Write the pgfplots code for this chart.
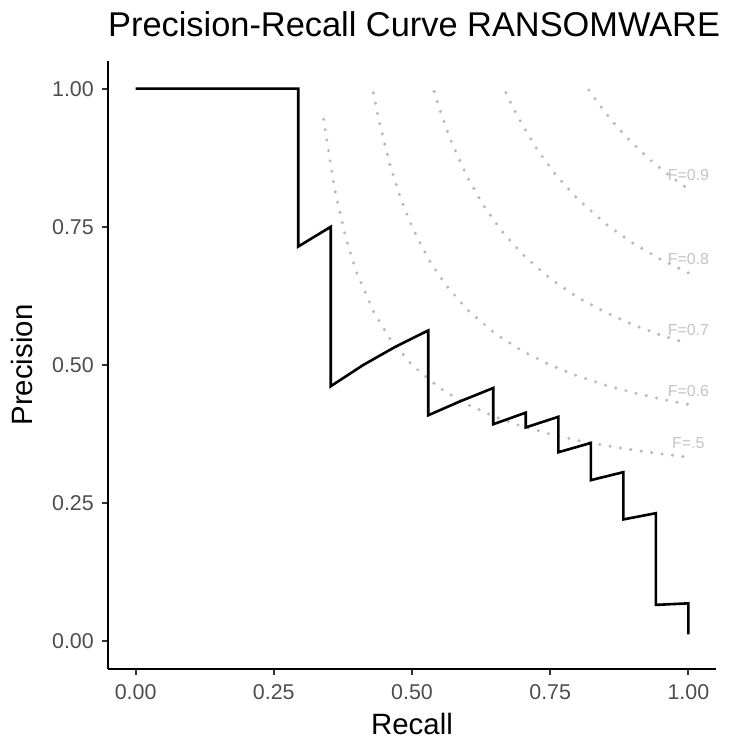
\documentclass[border=0pt]{standalone}
\usepackage{pgfplots}
\pgfplotsset{compat=1.18}
\usepackage{pgfplotstable}
\usepackage{fontspec}
\setmainfont{Liberation Sans}
\definecolor{tickgray}{HTML}{4D4D4D}
\definecolor{isogray}{HTML}{B8B8B8}
\definecolor{labgray}{HTML}{C4C4C4}

\pgfplotstableread{
r p
0 1
0.29412 1
0.29412 0.71429
0.35294 0.75
0.35294 0.46154
0.41176 0.5
0.47059 0.53333
0.52941 0.5625
0.52941 0.40909
0.58824 0.43478
0.64706 0.45833
0.64706 0.39286
0.70588 0.41379
0.70588 0.38710
0.76471 0.40625
0.76471 0.34211
0.82353 0.35897
0.82353 0.29167
0.88235 0.30612
0.88235 0.22059
0.94118 0.23188
0.94118 0.0660
1 0.0688
1 0.0125
}\prcurve

\pgfplotstableread{
r p
0.34 0.9444
0.36 0.8182
0.38 0.7308
0.40 0.6667
0.43 0.5972
0.46 0.5476
0.50 0.5
0.55 0.4583
0.60 0.4286
0.65 0.4063
0.70 0.3889
0.75 0.375
0.80 0.3636
0.85 0.3542
0.90 0.3462
0.95 0.3393
1.00 0.3333
}\isofive

\pgfplotstableread{
r p
0.43 0.9923
0.44 0.9429
0.46 0.8625
0.48 0.8
0.50 0.75
0.53 0.6913
0.56 0.6462
0.60 0.6
0.65 0.5571
0.70 0.525
0.75 0.5
0.80 0.48
0.85 0.4636
0.90 0.45
0.95 0.4385
1.00 0.4286
}\isosix

\pgfplotstableread{
r p
0.54 0.9947
0.55 0.9625
0.57 0.9068
0.60 0.84
0.63 0.7875
0.66 0.7452
0.70 0.7
0.75 0.65625
0.80 0.6222
0.85 0.595
0.90 0.5727
0.95 0.5542
1.00 0.5385
}\isoseven

\pgfplotstableread{
r p
0.67 0.9926
0.68 0.9714
0.70 0.9333
0.73 0.8848
0.76 0.8444
0.80 0.8
0.85 0.7556
0.90 0.72
0.95 0.6909
1.00 0.6667
}\isoeight

\pgfplotstableread{
r p
0.82 0.9973
0.84 0.9692
0.86 0.9439
0.88 0.9209
0.90 0.9
0.93 0.8719
0.96 0.8471
1.00 0.8182
}\isonine

\begin{document}
\begin{tikzpicture}
\begin{axis}[
  width=608bp, height=608bp, scale only axis,
  xmin=-0.05, xmax=1.05, ymin=-0.05, ymax=1.05,
  axis x line*=bottom, axis y line*=left,
  axis line style={line width=1.9bp, black, -},
  xtick={0,0.25,0.5,0.75,1}, xticklabels={0.00,0.25,0.50,0.75,1.00},
  ytick={0,0.25,0.5,0.75,1}, yticklabels={0.00,0.25,0.50,0.75,1.00},
  tick align=outside, major tick length=6bp,
  tick style={line width=1.9bp, color=black!80},
  xticklabel style={font=\fontsize{21.5}{21.5}\selectfont, text=tickgray, anchor=base, inner sep=0pt, yshift=-24bp},
  yticklabel style={font=\fontsize{21.5}{21.5}\selectfont, text=tickgray, anchor=east, inner sep=0pt, xshift=-8bp},
  clip=false,
]
\pgfplotsset{iso/.style={isogray, line width=3.4bp, line cap=round, dash pattern=on 0bp off 10.5bp}}
\addplot[iso] table[x=r,y=p] {\isofive};
\addplot[iso] table[x=r,y=p] {\isosix};
\addplot[iso] table[x=r,y=p] {\isoseven};
\addplot[iso] table[x=r,y=p] {\isoeight};
\addplot[iso] table[x=r,y=p] {\isonine};
\addplot[black, line width=2.6bp, line join=miter] table[x=r,y=p] {\prcurve};
\node[labgray, font=\fontsize{16}{16}\selectfont, inner sep=0pt] at (axis cs:1,0.358) {F=.5};
\node[labgray, font=\fontsize{16}{16}\selectfont, inner sep=0pt] at (axis cs:1,0.4536) {F=0.6};
\node[labgray, font=\fontsize{16}{16}\selectfont, inner sep=0pt] at (axis cs:1,0.5635) {F=0.7};
\node[labgray, font=\fontsize{16}{16}\selectfont, inner sep=0pt] at (axis cs:1,0.6917) {F=0.8};
\node[labgray, font=\fontsize{16}{16}\selectfont, inner sep=0pt] at (axis cs:1,0.8432) {F=0.9};
\node[anchor=base west, inner sep=0pt, font=\fontsize{34.5}{34.5}\selectfont] at ([yshift=24bp]rel axis cs:0,1) {Precision-Recall Curve RANSOMWARE};
\node[anchor=base, inner sep=0pt, font=\fontsize{29.5}{29.5}\selectfont] at ([yshift=-65bp]rel axis cs:0.5,0) {Recall};
\node[anchor=base, rotate=90, inner sep=0pt, font=\fontsize{29.5}{29.5}\selectfont] at ([xshift=-75bp]rel axis cs:0,0.5) {Precision};
\end{axis}
\pgfresetboundingbox
\path (current axis.south west) ++(-108bp,-73bp) rectangle ++(737bp,742bp);
\end{tikzpicture}
\end{document}
